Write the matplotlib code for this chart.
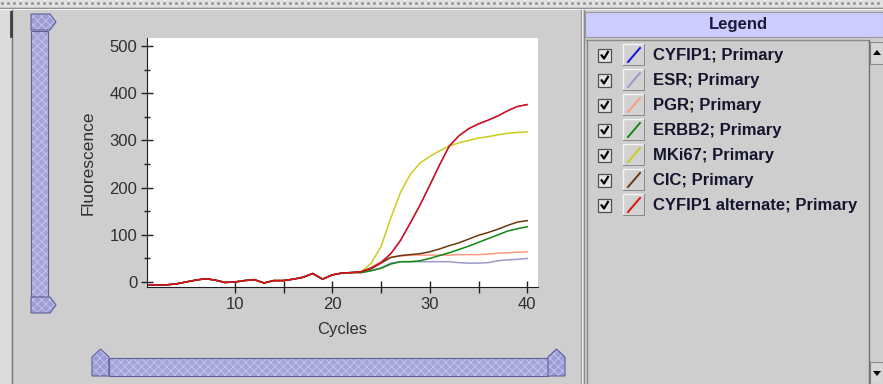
import matplotlib
matplotlib.use("Agg")
import matplotlib.pyplot as plt
from matplotlib.patches import Rectangle, Polygon

plt.rcParams["font.family"] = ["Liberation Sans", "DejaVu Sans"]
plt.rcParams["hatch.linewidth"] = 0.6

cycles = list(range(1, 41))

# all curves sit on the same baseline for cycles 1-22
baseline = [-6, -6, -6, -4, 0, 4, 7, 4, -1, 0, 3, 5, -2, 3, 3, 6, 10, 18, 6, 15, 19, 20]

# cycles 23-40
tail_cyfip1 = [22, 30, 41, 60, 88, 125, 163, 205, 248, 288, 310, 325, 335, 343, 352, 363, 372, 376]
tail_esr = [20, 24, 30, 40, 43, 43, 43, 43, 43, 43, 41, 40, 40, 41, 45, 47, 48, 50]
tail_pgr = [20, 30, 43, 52, 55, 57, 57, 57, 57, 57, 58, 58, 58, 59, 61, 62, 63, 64]
tail_erbb2 = [20, 24, 29, 38, 43, 43, 45, 50, 56, 62, 69, 76, 84, 92, 100, 108, 113, 117]
tail_mki67 = [22, 40, 75, 135, 190, 228, 252, 266, 278, 288, 295, 300, 305, 308, 312, 315, 317, 318]
tail_cic = [22, 28, 40, 52, 56, 58, 60, 64, 70, 77, 83, 91, 99, 105, 112, 120, 127, 130]
tail_cyfip1_alt = [22, 30, 41, 60, 88, 125, 163, 205, 248, 288, 310, 325, 335, 343, 352, 363, 372, 376]

series_names = ["CYFIP1; Primary", "ESR; Primary", "PGR; Primary", "ERBB2; Primary",
                "MKi67; Primary", "CIC; Primary", "CYFIP1 alternate; Primary"]
series_tails = [tail_cyfip1, tail_esr, tail_pgr, tail_erbb2, tail_mki67, tail_cic, tail_cyfip1_alt]
series_colors = ["#1010e0", "#9a9acc", "#ff9a80", "#118811", "#cccc1c", "#6b3810", "#e01010"]
draw_order = [1, 2, 3, 4, 5, 0, 6]

GRAY = "#cecece"
SLIDER = "#a4a4d8"
SLIDER_EDGE = "#60609a"

fig = plt.figure(figsize=(8.83, 3.84), dpi=100, facecolor=GRAY)

# ---- window chrome, drawn in pixel coordinates
bg = fig.add_axes([0, 0, 1, 1], zorder=0)
bg.set_xlim(0, 883)
bg.set_ylim(384, 0)
bg.axis("off")

bg.add_patch(Rectangle((0, 0), 883, 7, fc="#e2e2e2", ec="none"))
bg.plot(range(2, 883, 6), [3] * len(range(2, 883, 6)), ls="none", marker="s", ms=1.2, color="#a0a0a0")
bg.plot([0, 883], [7.5, 7.5], color="#8c8c8c", lw=0.9)
bg.plot([0, 883], [9, 9], color="#f2f2f2", lw=0.8)
bg.add_patch(Rectangle((0, 9.5), 11, 375, fc="#dcdcdc", ec="none"))
bg.plot([11.5, 11.5], [9.5, 384], color="#7a7a7a", lw=1.0)
bg.plot([11, 11], [12, 36], color="#404040", lw=2.0)

# vertical range slider
bg.add_patch(Rectangle((31, 31), 17, 266, fc=SLIDER, ec="#c6c6ee", hatch="xxxx", lw=0))
bg.add_patch(Rectangle((31, 31), 17, 266, fc="none", ec=SLIDER_EDGE, lw=0.8))
for y0 in (14, 297):
    bg.add_patch(Polygon([(31, y0), (50, y0), (56, y0 + 8), (50, y0 + 16), (31, y0 + 16)],
                         fc="#9c9cd6", ec="#c6c6ee", hatch="xxxx", lw=0))
    bg.add_patch(Polygon([(31, y0), (50, y0), (56, y0 + 8), (50, y0 + 16), (31, y0 + 16)],
                         fc="none", ec=SLIDER_EDGE, lw=0.8))

# horizontal range slider
bg.add_patch(Rectangle((109, 358), 439, 18, fc=SLIDER, ec="#c6c6ee", hatch="xxxx", lw=0))
bg.add_patch(Rectangle((109, 358), 439, 18, fc="none", ec=SLIDER_EDGE, lw=0.8))
for x0 in (92, 548):
    pts = [(x0, 376), (x0, 357), (x0 + 8.5, 349), (x0 + 17, 357), (x0 + 17, 376)]
    bg.add_patch(Polygon(pts, fc="#9c9cd6", ec="#c6c6ee", hatch="xxxx", lw=0))
    bg.add_patch(Polygon(pts, fc="none", ec=SLIDER_EDGE, lw=0.8))

# splitter
bg.plot([580.5, 580.5], [9.5, 384], color="#8a8a8a", lw=1.0)
bg.plot([582, 582], [9.5, 384], color="#f0f0f0", lw=1.0)
bg.plot([583.5, 583.5], [9.5, 384], color="#8a8a8a", lw=1.0)

# legend panel
bg.add_patch(Rectangle((585, 12), 298, 25, fc="#ccccff", ec="#9a9a9a", lw=0.8))
bg.text(738, 25, "Legend", ha="center", va="center", fontsize=12, fontweight="bold", color="#1a1a3a")
bg.plot([586, 868], [39.5, 39.5], color="#8a8a8a", lw=1.0)
bg.plot([586.5, 586.5], [39.5, 384], color="#8a8a8a", lw=1.0)
bg.plot([868.5, 868.5], [39.5, 384], color="#6e6e6e", lw=1.0)
bg.add_patch(Rectangle((870, 42), 13, 22, fc="#d6d6d6", ec="#8a8a8a", lw=0.8))
bg.add_patch(Polygon([(873, 55), (881, 55), (877, 50)], fc="black", ec="none"))
bg.add_patch(Rectangle((870, 362), 13, 22, fc="#d6d6d6", ec="#8a8a8a", lw=0.8))
bg.add_patch(Polygon([(873, 371), (881, 371), (877, 376)], fc="black", ec="none"))

for i, (name, color) in enumerate(zip(series_names, series_colors)):
    yc = 55 + 25 * i
    bg.add_patch(Rectangle((598, yc - 6.5), 13, 13, fc="#e4e4e4", ec="#505050", lw=0.9))
    bg.plot([601, 604, 608.5], [yc - 0.5, yc + 3.5, yc - 4], color="black", lw=1.6, solid_capstyle="butt")
    bg.add_patch(Rectangle((623, yc - 11), 21, 21, fc="#d2d2d2", ec="#f4f4f4", lw=1.0))
    bg.plot([644, 644, 623], [yc - 11, yc + 10, yc + 10], color="#8a8a8a", lw=0.8)
    bg.plot([628, 640], [yc + 7, yc - 7], color=color, lw=1.4)
    bg.text(653, yc + 0.5, name, ha="left", va="center", fontsize=12, fontweight="bold", color="#15152e")

# ---- the chart
ax = fig.add_axes([147 / 883, 1 - 287 / 384, 391 / 883, 249 / 384], zorder=2)
ax.set_facecolor("white")
for i in draw_order:
    values = baseline + series_tails[i]
    ax.plot(cycles, values, color=series_colors[i], lw=0.8 if i == 0 else 1.1)

ax.set_xlim(1, 41.1)
ax.set_ylim(-10.6, 517)
ax.set_xticks([10, 20, 30, 40])
ax.set_xticks([15, 25, 35], minor=True)
ax.set_yticks([0, 100, 200, 300, 400, 500])
ax.set_yticks([50, 150, 250, 350, 450], minor=True)
for side in ("top", "right"):
    ax.spines[side].set_visible(False)
for side in ("left", "bottom"):
    ax.spines[side].set_color("#202020")
ax.tick_params(which="major", direction="inout", length=8, width=1, color="#202020",
               labelsize=12, labelcolor="#303030", pad=3)
ax.tick_params(axis="x", which="minor", direction="inout", length=8, width=1, color="#202020")
ax.tick_params(axis="y", which="minor", direction="inout", length=5, width=1, color="#202020")

ax.set_xlabel("Cycles", fontsize=12, color="#303030")
ax.set_ylabel("Fluorescence", fontsize=12.5, color="#303030")
ax.xaxis.set_label_coords(0.5, -0.169)
ax.xaxis.label.set_va("center")
ax.yaxis.set_label_coords(-0.151, 0.5)
ax.yaxis.label.set_va("center")

fig.savefig("out.png", dpi=100, facecolor=GRAY)
